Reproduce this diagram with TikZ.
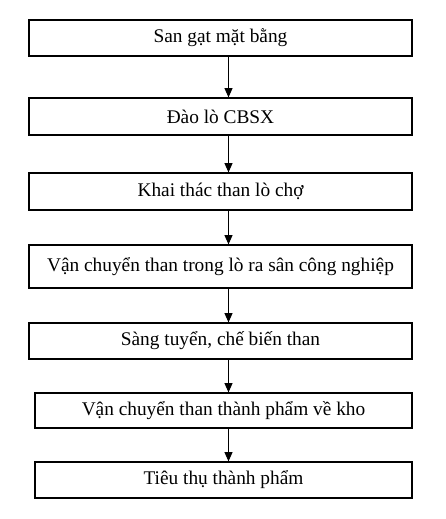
\documentclass[tikz,border=0pt]{standalone}
\usepackage{fontspec}
\setmainfont{Liberation Serif}
\usetikzlibrary{arrows.meta}

\begin{document}
\begin{tikzpicture}[x=0.75pt, y=-0.75pt,
    box/.style={draw, line width=0.9pt, minimum width=383*0.75pt, inner sep=0pt,
        font=\fontsize{14.5}{17}\selectfont},
    flow/.style={-{Triangle[length=7pt, width=6pt]}, line width=0.8pt}]
    \useasboundingbox (0,0) rectangle (446,519);
    \node[box, minimum height=36*0.75pt] (b1) at (220.5,38) {San gạt mặt bằng};
    \node[box, minimum height=37*0.75pt] (b2) at (220.5,116.5) {Đào lò CBSX};
    \node[box, minimum height=37*0.75pt] (b3) at (220.5,191.5) {Khai thác than lò chợ};
    \node[box, minimum height=43*0.75pt] (b4) at (220.5,266.5) {Vận chuyển than trong lò ra sân công nghiệp};
    \node[box, minimum height=36*0.75pt] (b5) at (220.5,341) {Sàng tuyển, chế biến than};
    \node[box, minimum height=35*0.75pt, minimum width=377*0.75pt] (b6) at (223.5,410.5) {Vận chuyển than thành phẩm về kho};
    \node[box, minimum height=36*0.75pt, minimum width=377*0.75pt] (b7) at (223.5,480) {Tiêu thụ thành phẩm};
    \coordinate (ax) at (228.5,0);
    \draw[flow] (b1.south -| ax) -- (b2.north -| ax);
    \draw[flow] (b2.south -| ax) -- (b3.north -| ax);
    \draw[flow] (b3.south -| ax) -- (b4.north -| ax);
    \draw[flow] (b4.south -| ax) -- (b5.north -| ax);
    \draw[flow] (b5.south -| ax) -- (b6.north -| ax);
    \draw[flow] (b6.south -| ax) -- (b7.north -| ax);
\end{tikzpicture}
\end{document}
